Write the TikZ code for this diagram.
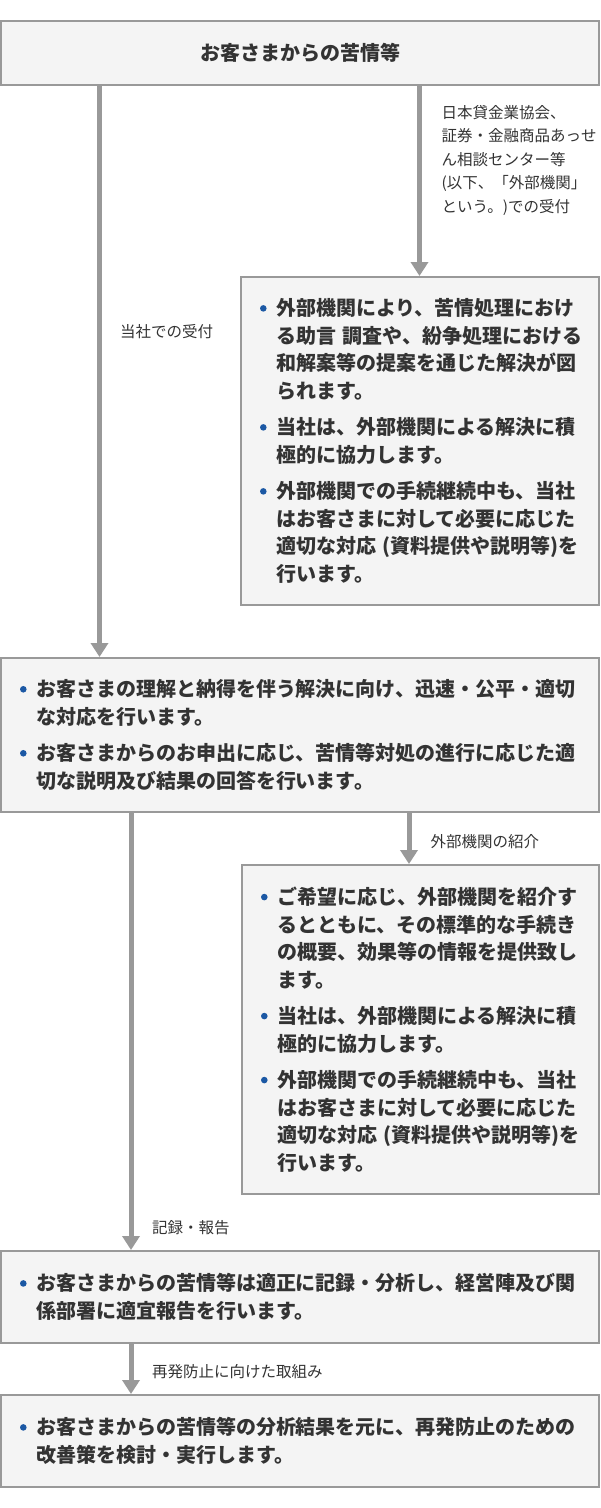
\documentclass[tikz,border=0pt]{standalone}
\usepackage{fontspec}
\setmainfont{Noto Sans CJK JP}
\usetikzlibrary{arrows.meta}

\definecolor{boxfill}{HTML}{F4F4F4}
\definecolor{boxline}{HTML}{999999}
\definecolor{flowgray}{HTML}{999999}
\definecolor{txtgray}{HTML}{333333}
\definecolor{dotblue}{HTML}{1B58A4}

\newcommand{\bodyfont}{\fontsize{20}{27.5}\selectfont\bfseries}
\newcommand{\lblfont}{\fontsize{15.5}{23.5}\selectfont}
\newcommand{\bdot}{\makebox[16pt][l]{\raisebox{4.2pt}{\tikz\fill[dotblue] (0,0) circle (3.3pt);}}}
\newcommand{\cont}{\hspace*{16pt}}
\newcommand{\igap}{9pt}

\tikzset{
  box/.style={draw=boxline, fill=boxfill, line width=2pt, inner xsep=19pt, inner ysep=0pt,
    anchor=north west, align=left, font=\bodyfont, text=txtgray},
  flow/.style={draw=flowgray, line width=5pt, -{Triangle[width=17pt,length=14pt]}},
  lbl/.style={font=\lblfont, text=txtgray, inner sep=0pt, anchor=west, align=left}
}

\begin{document}
\begin{tikzpicture}[x=1pt,y=-1pt]
  \useasboundingbox (0,0) rectangle (600,1508);
  %% boxes
  \node[box, align=center, text width=560pt, minimum height=64pt] (complaint) at (0,20) {お客さまからの苦情等};
  \node[box, text width=320pt, minimum height=328pt] (extrecv) at (240,276) {%
    \bdot 外部機関により、苦情処理におけ\\
    \cont る助言~調査や、紛争処理における\\
    \cont 和解案等の提案を通じた解決が図\\
    \cont られます。\\[\igap]
    \bdot 当社は、外部機関による解決に積\\
    \cont 極的に協力します。\\[\igap]
    \bdot 外部機関での手続継続中も、当社\\
    \cont はお客さまに対して必要に応じた\\
    \cont 適切な対応~(資料提供や説明等)を\\
    \cont 行います。};
  \node[box, text width=560pt, minimum height=154pt] (resp) at (0,657) {%
    \bdot お客さまの理解と納得を伴う解決に向け、迅速・公平・適切\\
    \cont な対応を行います。\\[\igap]
    \bdot お客さまからのお申出に応じ、苦情等対処の進行に応じた適\\
    \cont 切な説明及び結果の回答を行います。};
  \node[box, text width=319pt, minimum height=329pt] (intro) at (241,864) {%
    \bdot ご希望に応じ、外部機関を紹介す\\
    \cont るとともに、その標準的な手続き\\
    \cont の概要、効果等の情報を提供致し\\
    \cont ます。\\[\igap]
    \bdot 当社は、外部機関による解決に積\\
    \cont 極的に協力します。\\[\igap]
    \bdot 外部機関での手続継続中も、当社\\
    \cont はお客さまに対して必要に応じた\\
    \cont 適切な対応~(資料提供や説明等)を\\
    \cont 行います。};
  \node[box, text width=560pt, minimum height=92pt] (record) at (0,1250) {%
    \bdot お客さまからの苦情等は適正に記録・分析し、経営陣及び関\\
    \cont 係部署に適宜報告を行います。};
  \node[box, text width=560pt, minimum height=92pt] (prevent) at (0,1394) {%
    \bdot お客さまからの苦情等の分析結果を元に、再発防止のための\\
    \cont 改善策を検討・実行します。};

  %% arrows
  \coordinate (xa) at (99.5,0);
  \coordinate (xb) at (419.5,0);
  \coordinate (xc) at (131,0);
  \coordinate (xd) at (409,0);
  \draw[flow] (complaint.south -| xa) -- (resp.north -| xa);
  \draw[flow] (complaint.south -| xb) -- (extrecv.north -| xb);
  \draw[flow] (resp.south -| xc) -- (record.north -| xc);
  \draw[flow] (resp.south -| xd) -- (intro.north -| xd);
  \draw[flow] (record.south -| xc) -- (prevent.north -| xc);

  %% labels
  \node[lbl] (outside) at (441.5,160) {日本貸金業協会、\\証券・金融商品あっせ\\ん相談センター等\\(以下、「外部機関」\\という。)での受付};
  \node[lbl] (inside) at (120,332) {当社での受付};
  \node[lbl] (refer) at (430.5,842) {外部機関の紹介};
  \node[lbl] (report) at (152,1228) {記録・報告};
  \node[lbl] (again) at (152,1372) {再発防止に向けた取組み};
\end{tikzpicture}
\end{document}
